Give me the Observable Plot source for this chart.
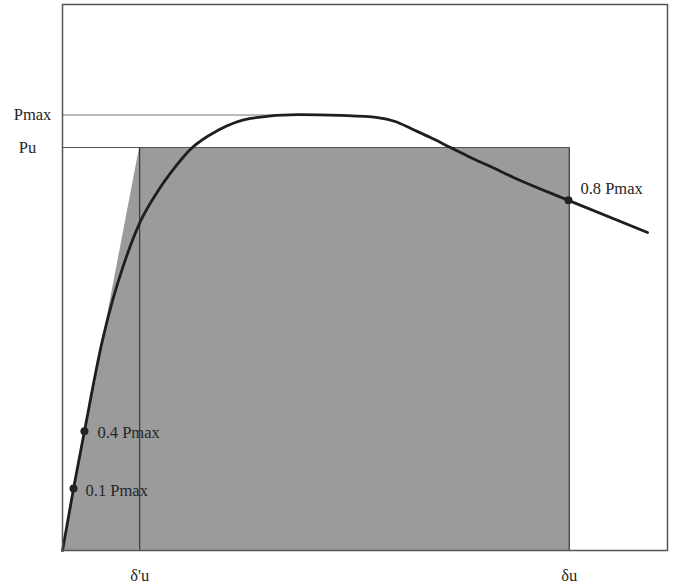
<!DOCTYPE html>
<html>
<head>
<meta charset="utf-8">
<script src="https://cdn.jsdelivr.net/npm/d3@7"></script>
<script src="https://cdn.jsdelivr.net/npm/@observablehq/plot@0.6"></script>
<style>
  html, body { margin: 0; padding: 0; background: #fff; }
  #chart svg { display: block; }
</style>
</head>
<body>
<div id="chart"></div>
<script>
// Load–displacement curve (arbitrary units)
const curveX = [0, 0.73, 1.45, 2.64, 3.37, 4.03, 5.16, 6.28, 7.34, 8.46, 10.25, 12.43, 15.54, 18.38, 20.83, 22.0, 23.14, 24.33, 25.65, 26.98, 28.30, 29.82, 33.45, 38.68];
const curveY = [0, 14.3, 27.5, 48.5, 58.4, 65.8, 76.0, 82.8, 88.0, 92.6, 96.9, 99.7, 100.6, 100.4, 99.9, 99.0, 97.2, 95.3, 93.0, 90.7, 88.6, 86.1, 80.8, 73.4];

// Key levels
const Pmax = 100.5;
const Pu = 93.0;
const dUprime = 5.1;   // δ'u
const dU = 33.5;       // δu
const peakX = 15.5;

// Equivalent elasto-plastic area
const areaX = [0, dUprime, dU];
const areaY = [0, Pu, Pu];

// Marked points
const ptX = [0.73, 1.45, 33.45];
const ptY = [14.3, 27.5, 80.8];
const ptLabel = ["0.1 Pmax", "0.4 Pmax", "0.8 Pmax"];

// Axis labels
const yLabels = ["Pmax", "Pu"];
const yLabelVals = [Pmax, Pu];
const xLabels = ["δ'u", "δu"];
const xLabelVals = [dUprime, dU];

const curve = curveX.map((x, i) => ({x, y: curveY[i]}));
const area = areaX.map((x, i) => ({x, y: areaY[i]}));
const pts = ptX.map((x, i) => ({x, y: ptY[i], label: ptLabel[i]}));

const font = "Liberation Serif, Times New Roman, serif";
const txt = {fill: "#262626", fontSize: 16.5};

const chart = Plot.plot({
  width: 676,
  height: 587,
  marginLeft: 62,
  marginRight: 9,
  marginTop: 4,
  marginBottom: 37,
  style: {fontFamily: font, fontSize: "16.5px", background: "#fff"},
  x: {domain: [0, 40], axis: null},
  y: {domain: [0, 126], axis: null},
  marks: [
    Plot.areaY(area, {x: "x", y: "y", fill: "#9b9b9b", curve: "linear"}),
    // Pmax and Pu guide lines
    Plot.ruleY([Pmax], {x1: 0, x2: peakX, stroke: "#777", strokeWidth: 1}),
    Plot.ruleY([Pu], {x1: 0, x2: dU, stroke: "#555", strokeWidth: 1.2}),
    // rectangle right edge and δ'u line
    Plot.ruleX([dU], {y1: 0, y2: Pu, stroke: "#444", strokeWidth: 1.5}),
    Plot.ruleX([dUprime], {y1: 0, y2: Pu, stroke: "#3a3a3a", strokeWidth: 1.2}),
    Plot.line(curve, {x: "x", y: "y", stroke: "#1e1e1e", strokeWidth: 2.8, curve: "monotone-x"}),
    Plot.dot(pts, {x: "x", y: "y", r: 4, fill: "#222", stroke: "none"}),
    Plot.text([pts[0]], {x: "x", y: "y", text: "label", textAnchor: "start", dx: 12, dy: 2, ...txt}),
    Plot.text([pts[1]], {x: "x", y: "y", text: "label", textAnchor: "start", dx: 13, dy: 1, ...txt}),
    Plot.text([pts[2]], {x: "x", y: "y", text: "label", textAnchor: "start", dx: 12, dy: -12, ...txt}),
    Plot.text([yLabels[0]], {x: 0, y: yLabelVals[0], text: d => d, dx: -30, textAnchor: "middle", ...txt}),
    Plot.text([yLabels[1]], {x: 0, y: yLabelVals[1], text: d => d, dx: -35, textAnchor: "middle", ...txt}),
    Plot.text(xLabels, {x: (d, i) => xLabelVals[i], y: 0, text: d => d, dy: 25, textAnchor: "middle", ...txt}),
    Plot.frame({stroke: "#555", strokeWidth: 1.5})
  ]
});
document.getElementById("chart").appendChild(chart);
</script>
</body>
</html>
